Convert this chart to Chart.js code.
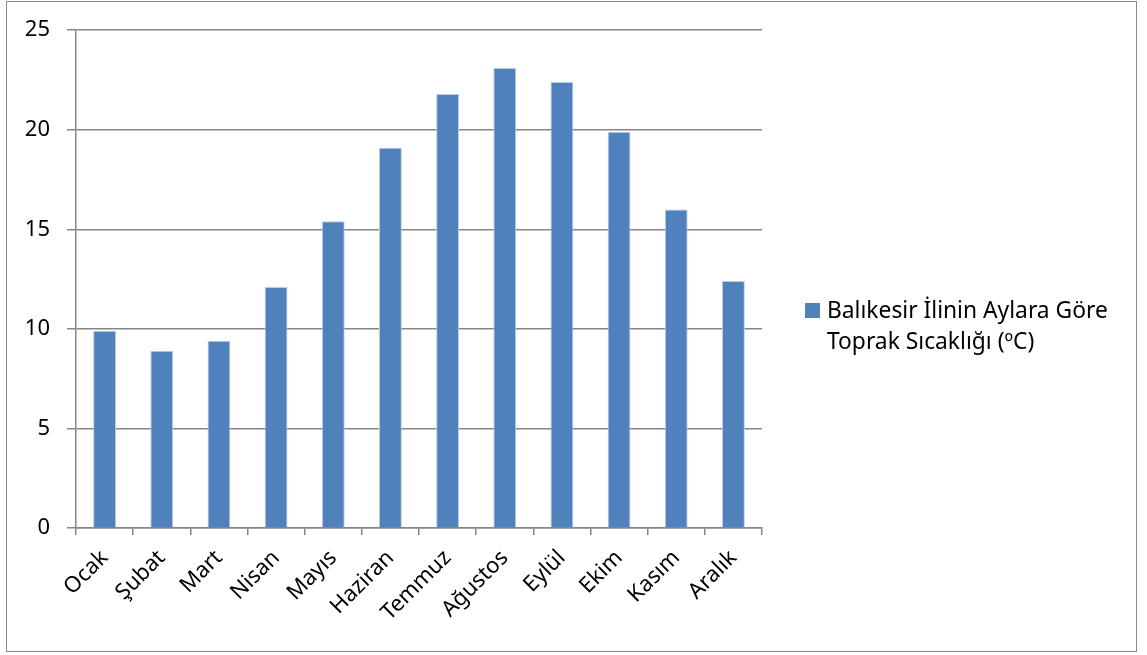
<!DOCTYPE html>
<html>
<head>
<meta charset="utf-8">
<script src="https://cdn.jsdelivr.net/npm/chart.js@4"></script>
<style>
  html, body { margin: 0; padding: 0; background: #fff; }
  #wrap { position: relative; width: 1147px; height: 655px; }
  #frame { position: absolute; left: 6px; top: 1px; width: 1131px; height: 651px; border: 1px solid #8a8a8a; box-sizing: border-box; pointer-events: none; }
  #legend { position: absolute; left: 805px; top: 294px; font-family: "Noto Sans", sans-serif; font-size: 22.8px; line-height: 31px; color: #000; }
  #legend .box { display: inline-block; width: 15px; height: 15px; background: #4f81bd; margin-right: 7px; vertical-align: 0px; }
  #legend .l2 { padding-left: 22px; }
</style>
</head>
<body>
<div id="wrap">
  <canvas id="grafico1" width="1147" height="655"></canvas>
  <div id="frame"></div>
  <div id="legend"></div>
</div>
<script>
var months = ['Ocak', 'Şubat', 'Mart', 'Nisan', 'Mayıs', 'Haziran', 'Temmuz', 'Ağustos', 'Eylül', 'Ekim', 'Kasım', 'Aralık'];
var soilTemp = [9.9, 8.9, 9.4, 12.1, 15.4, 19.1, 21.8, 23.1, 22.4, 19.9, 16.0, 12.4];
var yTicks = [0, 5, 10, 15, 20, 25];
var seriesName = ['Balıkesir İlinin Aylara Göre', 'Toprak Sıcaklığı (ºC)'];

var legend = document.getElementById('legend');
legend.innerHTML = '<div><span class="box"></span>' + seriesName[0] + '</div><div class="l2">' + seriesName[1] + '</div>';

var gridColor = '#868686';
var canvas = document.getElementById('grafico1');
var chart = new Chart(canvas, {
    type: 'bar',
    data: {
        labels: months,
        datasets: [{
            label: seriesName.join(' '),
            data: soilTemp,
            backgroundColor: '#4f81bd',
            borderColor: '#b9cde5',
            borderWidth: { top: 1, left: 1, right: 1, bottom: 0 },
            categoryPercentage: 1,
            barPercentage: 0.4
        }]
    },
    options: {
        responsive: false,
        animation: false,
        layout: { padding: { left: 0, right: 385, top: 27, bottom: 0 } },
        plugins: { legend: { display: false }, tooltip: { enabled: false } },
        scales: {
            x: {
                grid: { display: true, drawOnChartArea: false, offset: true, color: gridColor, tickLength: 7, lineWidth: 1.5 },
                border: { display: true, color: gridColor, width: 1.5 },
                ticks: {
                    color: '#000', minRotation: 45, maxRotation: 45, padding: 10,
                    font: { family: '"Noto Sans", sans-serif', size: 22 }
                },
                afterFit: function (s) { s.height = 127; }
            },
            y: {
                min: 0, max: 25,
                afterBuildTicks: function (s) { s.ticks = yTicks.map(function (v) { return { value: v }; }); },
                grid: { color: gridColor, tickLength: 9, lineWidth: 1.5 },
                border: { display: true, color: gridColor, width: 1.5 },
                ticks: {
                    color: '#000', padding: 17,
                    font: { family: '"Noto Sans", sans-serif', size: 22 }
                },
                afterFit: function (s) { s.width = 76; }
            }
        }
    }
});
</script>
</body>
</html>
